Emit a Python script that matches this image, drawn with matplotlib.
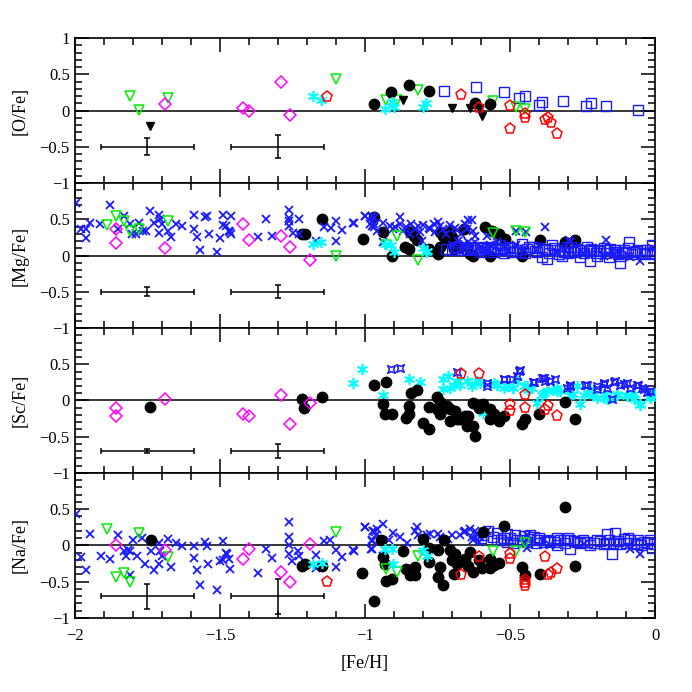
import numpy as np
import matplotlib
matplotlib.use('Agg')
import matplotlib.pyplot as plt
from matplotlib.path import Path
from matplotlib.ticker import MultipleLocator

plt.rcParams['font.family'] = ['Liberation Serif', 'DejaVu Serif']

# ---------------- data (pairs of [Fe/H], [X/Fe]) ----------------
# [O/Fe]
o_circ = [(-0.969, 0.09), (-0.909, 0.25), (-0.849, 0.35), (-0.779, 0.27), (-0.62, 0.106), (-0.57, 0.09)]
o_tri = [(-1.81, 0.20), (-1.779, 0.01), (-1.68, 0.175), (-1.099, 0.44), (-0.929, 0.14), (-0.89, 0.14),
         (-0.818, 0.28), (-0.559, 0.13), (-0.479, 0.055), (-0.449, 0.02)]
o_btri = [(-1.74, -0.21), (-0.868, 0.14), (-0.699, 0.04), (-0.64, 0.04), (-0.609, 0.04), (-0.598, -0.07)]
o_dia = [(-1.69, 0.09), (-1.42, 0.03), (-1.40, -0.01), (-1.29, 0.40), (-1.26, -0.06)]
o_ast = [(-1.18, 0.20), (-1.15, 0.14), (-0.931, 0.02), (-0.908, 0.115), (-0.899, 0.055), (-0.799, 0.055), (-0.79, 0.10)]
o_pent = [(-1.13, 0.18), (-0.669, 0.21), (-0.609, 0.04), (-0.50, 0.06), (-0.499, -0.25), (-0.449, -0.046),
          (-0.449, -0.105), (-0.38, -0.13), (-0.368, -0.10), (-0.36, -0.175), (-0.338, -0.32)]
o_sq = [(-0.729, 0.27), (-0.618, 0.32), (-0.52, 0.26), (-0.469, 0.17), (-0.449, 0.20), (-0.40, 0.08),
        (-0.39, 0.124), (-0.318, 0.138), (-0.239, 0.06), (-0.22, 0.10), (-0.169, 0.06), (-0.059, 0.005)]

# [Mg/Fe]
mg_cross = [(-1.997, 0.72), (-1.98, 0.37), (-1.96, 0.37), (-1.96, 0.24), (-1.948, 0.45), (-1.914, 0.44),
            (-1.879, 0.70), (-1.85, 0.37), (-1.83, 0.54), (-1.81, 0.43), (-1.804, 0.30), (-1.79, 0.29),
            (-1.779, 0.45), (-1.764, 0.335), (-1.755, 0.335), (-1.741, 0.61), (-1.727, 0.45), (-1.709, 0.565),
            (-1.709, 0.31), (-1.708, 0.50), (-1.70, 0.43), (-1.68, 0.345), (-1.67, 0.25), (-1.652, 0.44),
            (-1.63, 0.41), (-1.59, 0.56), (-1.59, 0.36), (-1.58, 0.25), (-1.569, 0.07), (-1.55, 0.53),
            (-1.545, 0.55), (-1.539, 0.29), (-1.509, 0.055), (-1.50, 0.24), (-1.49, 0.56), (-1.49, 0.42),
            (-1.48, 0.41), (-1.468, 0.345), (-1.465, 0.32), (-1.46, 0.54), (-1.46, 0.29), (-1.369, 0.26),
            (-1.34, 0.50), (-1.32, 0.27), (-1.261, 0.63), (-1.261, 0.52), (-1.261, 0.47), (-1.261, 0.41),
            (-1.248, 0.31), (-1.229, 0.50), (-1.229, 0.30), (-1.169, 0.20), (-1.141, 0.40), (-1.118, 0.38),
            (-1.10, 0.47), (-1.10, 0.195), (-1.079, 0.355), (-1.038, 0.445), (-1.001, 0.55), (-0.977, 0.53),
            (-0.977, 0.41), (-0.97, 0.44),
            (-1.040, 0.45), (-0.999, 0.55), (-0.976, 0.55), (-0.969, 0.52), (-0.983, 0.44), (-0.969, 0.39),
            (-0.960, 0.345), (-0.939, 0.45), (-0.914, 0.41), (-0.905, 0.37), (-0.897, 0.39), (-0.879, 0.53),
            (-0.868, 0.335), (-0.845, 0.30), (-0.828, 0.37), (-0.816, 0.41), (-0.810, 0.32), (-0.776, 0.37),
            (-0.764, 0.44), (-0.750, 0.46), (-0.741, 0.41), (-0.707, 0.42), (-0.684, 0.355), (-0.655, 0.44),
            (-0.644, 0.49), (-0.632, 0.49), (-0.627, 0.345), (-0.621, 0.275), (-0.644, 0.185), (-0.66, 0.115),
            (-0.592, 0.09), (-0.580, 0.275), (-0.479, 0.345), (-0.445, 0.32), (-0.479, 0.14), (-0.379, 0.40),
            (-0.299, 0.21), (-0.293, 0.18), (-0.169, 0.22), (-0.052, -0.08), (-0.012, 0.11), (-0.937, 0.19),
            (-0.805, 0.20), (-0.546, 0.185), (-0.454, 0.09), (-0.408, 0.07), (-0.339, 0.045), (-0.247, 0.02),
            (-0.178, 0.0), (-0.132, 0.045), (-0.086, -0.02),
            (-0.70, 0.15), (-0.68, 0.20), (-0.66, 0.16), (-0.64, 0.13), (-0.62, 0.18), (-0.60, 0.12),
            (-0.57, 0.15), (-0.55, 0.12), (-0.52, 0.13), (-0.88, 0.43), (-0.86, 0.40), (-0.84, 0.44),
            (-0.80, 0.42), (-0.78, 0.38), (-0.76, 0.33), (-0.73, 0.36), (-0.72, 0.30), (-0.69, 0.38),
            (-0.67, 0.30), (-0.65, 0.36)]
mg_circ = [(-1.216, 0.29), (-1.207, 0.29), (-1.149, 0.50), (-1.008, 0.225), (-0.969, 0.53), (-0.939, 0.32),
           (-0.908, 0.0), (-0.862, 0.124), (-0.847, 0.09), (-0.845, 0.32), (-0.822, 0.21), (-0.779, 0.09),
           (-0.750, 0.02), (-0.741, 0.115), (-0.741, 0.32), (-0.730, 0.275), (-0.707, 0.345), (-0.701, 0.25),
           (-0.695, 0.09), (-0.672, 0.115), (-0.658, 0.37), (-0.638, 0.023), (-0.627, 0.0), (-0.586, 0.39),
           (-0.563, 0.345), (-0.540, 0.30), (-0.517, 0.23), (-0.569, -0.013), (-0.460, 0.0), (-0.397, 0.21),
           (-0.310, 0.185), (-0.276, 0.21), (-0.833, 0.275), (-0.718, 0.185)]
mg_sq = [(-0.580, 0.09), (-0.551, 0.07), (-0.534, 0.14), (-0.517, 0.07), (-0.489, 0.106), (-0.460, 0.16),
         (-0.443, 0.09), (-0.420, 0.115), (-0.391, -0.02), (-0.374, 0.07), (-0.357, 0.14), (-0.345, 0.07),
         (-0.322, 0.0), (-0.305, 0.115), (-0.282, 0.046), (-0.259, -0.014), (-0.236, 0.115), (-0.213, 0.07),
         (-0.201, 0.0), (-0.178, 0.106), (-0.161, -0.02), (-0.144, 0.046), (-0.121, -0.106), (-0.109, 0.07),
         (-0.089, 0.184), (-0.075, 0.046), (-0.052, 0.07), (-0.034, 0.023), (-0.011, 0.14), (-0.006, 0.023),
         (-0.121, 0.0), (-0.155, 0.09), (-0.195, 0.06), (-0.270, 0.09), (-0.333, 0.023), (-0.408, 0.046),
         (-0.466, 0.046), (-0.597, 0.115), (-0.72, 0.09), (-0.68, 0.11), (-0.66, 0.07), (-0.63, 0.10),
         (-0.61, 0.08), (-0.374, -0.046), (-0.224, -0.07),
         (-0.56, 0.05), (-0.545, 0.10), (-0.52, 0.03), (-0.505, 0.12), (-0.495, 0.05), (-0.475, 0.08),
         (-0.45, 0.03), (-0.435, 0.12), (-0.415, 0.06), (-0.40, 0.10), (-0.38, 0.09), (-0.365, 0.03),
         (-0.35, 0.10), (-0.33, 0.08), (-0.315, 0.05), (-0.30, 0.03), (-0.29, 0.12), (-0.275, 0.06),
         (-0.26, 0.08), (-0.245, 0.03), (-0.23, 0.06), (-0.22, 0.09), (-0.205, 0.04), (-0.19, 0.08),
         (-0.17, 0.04), (-0.165, 0.07), (-0.14, 0.08), (-0.13, 0.02), (-0.115, 0.05), (-0.10, 0.03),
         (-0.095, 0.10), (-0.08, 0.02), (-0.065, 0.06), (-0.045, 0.03), (-0.03, 0.07), (-0.02, 0.04),
         (-0.70, 0.07), (-0.69, 0.12), (-0.65, 0.09), (-0.64, 0.12), (-0.62, 0.07), (-0.60, 0.05),
         (-0.59, 0.11), (-0.57, 0.12), (-0.53, 0.09), (-0.51, 0.10)]
mg_tri = [(-1.889, 0.42), (-1.859, 0.54), (-1.83, 0.48), (-1.81, 0.345), (-1.779, 0.37), (-1.68, 0.48),
          (-1.10, 0.0), (-0.928, 0.15), (-0.89, 0.275), (-0.818, -0.06), (-0.56, 0.31), (-0.479, 0.335),
          (-0.449, 0.32)]
mg_dia = [(-1.859, 0.36), (-1.859, 0.175), (-1.69, 0.10), (-1.42, 0.44), (-1.40, 0.22), (-1.29, 0.27),
          (-1.26, 0.115), (-1.19, -0.065)]
mg_ast = [(-1.18, 0.16), (-1.15, 0.18), (-0.93, 0.155), (-0.91, 0.14), (-0.90, 0.05), (-0.80, 0.11),
          (-0.79, 0.05), (-0.785, 0.06)]

# [Sc/Fe]
sc_dia = [(-1.859, -0.11), (-1.859, -0.216), (-1.69, 0.02), (-1.42, -0.19), (-1.40, -0.216), (-1.29, 0.08),
          (-1.26, -0.32), (-1.19, -0.04)]
sc_circ = [(-1.74, -0.09), (-1.218, 0.02), (-1.209, -0.10), (-1.148, 0.05), (-0.969, 0.22), (-0.939, -0.055),
           (-0.931, -0.19), (-0.908, -0.19), (-0.928, 0.25), (-0.859, -0.24), (-0.85, -0.07), (-0.85, -0.19),
           (-0.84, 0.11), (-0.82, 0.15), (-0.80, -0.31), (-0.78, -0.39), (-0.779, -0.09), (-0.751, 0.05),
           (-0.741, -0.02), (-0.751, -0.124), (-0.741, -0.19), (-0.73, -0.10), (-0.718, -0.07), (-0.707, -0.115),
           (-0.707, -0.285), (-0.69, -0.15), (-0.684, -0.26), (-0.672, -0.26), (-0.655, -0.216), (-0.644, -0.21),
           (-0.649, -0.345), (-0.629, -0.345), (-0.629, -0.03), (-0.62, -0.49), (-0.609, -0.10), (-0.592, -0.055),
           (-0.569, -0.124), (-0.569, -0.26), (-0.555, -0.19), (-0.54, -0.285), (-0.521, -0.216), (-0.46, -0.33),
           (-0.448, -0.25), (-0.40, -0.19), (-0.31, -0.02), (-0.278, -0.25)]
sc_ast = [(-1.04, 0.235), (-1.009, 0.43), (-0.939, 0.08), (-0.849, 0.30), (-0.81, 0.25), (-0.730, 0.30),
          (-0.730, 0.16), (-0.713, 0.335), (-0.707, 0.175), (-0.695, 0.22), (-0.672, 0.22), (-0.649, 0.27),
          (-0.615, 0.27), (-0.603, 0.244), (-0.592, -0.17), (-0.546, 0.22), (-0.523, 0.175), (-0.489, 0.175),
          (-0.477, 0.266), (-0.454, 0.198), (-0.437, 0.14), (-0.408, -0.03), (-0.391, 0.08), (-0.374, 0.128),
          (-0.351, 0.14), (-0.328, 0.128), (-0.293, 0.08), (-0.259, -0.055), (-0.247, 0.08), (-0.213, 0.08),
          (-0.178, 0.037), (-0.167, 0.014), (-0.132, 0.08), (-0.098, 0.08), (-0.075, 0.014), (-0.052, -0.069),
          (-0.017, 0.037), (0.0, 0.106), (-0.224, 0.152), (-0.270, 0.198), (-0.339, 0.175), (-0.425, 0.175),
          (-0.511, 0.198), (-0.557, 0.244), (-0.632, 0.198), (-0.684, 0.266),
          (-0.546, 0.22), (-0.489, 0.175), (-0.443, 0.20), (-0.385, 0.11), (-0.339, 0.13), (-0.282, 0.09),
          (-0.224, 0.11), (-0.178, 0.083), (-0.132, 0.09), (-0.098, 0.06), (-0.052, -0.055), (-0.017, 0.06),
          (-0.201, 0.037), (-0.155, 0.037), (-0.075, 0.083)]
sc_star = [(-0.910, 0.428), (-0.879, 0.45), (-0.684, 0.39), (-0.580, 0.244), (-0.580, 0.198), (-0.520, 0.30),
           (-0.494, 0.30), (-0.477, 0.335), (-0.467, 0.418), (-0.419, 0.25), (-0.391, 0.31), (-0.379, 0.266),
           (-0.362, 0.266), (-0.345, 0.29), (-0.293, 0.22), (-0.241, 0.22), (-0.178, 0.244), (-0.144, 0.25),
           (-0.121, 0.22), (-0.098, 0.244), (-0.058, 0.22), (-0.040, 0.152), (-0.150, 0.014), (-0.201, 0.152),
           (-0.305, 0.175), (-0.017, 0.128),
           (-0.523, 0.30), (-0.471, 0.41), (-0.420, 0.26), (-0.385, 0.31), (-0.293, 0.20), (-0.236, 0.22),
           (-0.178, 0.23), (-0.138, 0.27), (-0.109, 0.23), (-0.063, 0.22), (-0.046, 0.175), (-0.201, 0.20),
           (-0.167, 0.175), (-0.086, 0.175), (-0.029, 0.12)]
sc_pent = [(-0.669, 0.36), (-0.609, 0.37), (-0.50, -0.06), (-0.50, -0.15), (-0.45, 0.08), (-0.45, -0.10),
           (-0.38, -0.13), (-0.37, -0.07), (-0.338, -0.22)]

# [Na/Fe]
na_cross = [(-1.994, 0.44), (-1.98, -0.16), (-1.96, -0.335), (-1.948, 0.16), (-1.908, -0.15), (-1.879, -0.18),
            (-1.85, 0.14), (-1.83, -0.07), (-1.824, -0.14), (-1.816, -0.06), (-1.808, -0.08), (-1.787, -0.14),
            (-1.808, -0.41), (-1.80, 0.07), (-1.77, 0.105), (-1.759, -0.25), (-1.739, -0.08), (-1.728, -0.335),
            (-1.71, 0.03), (-1.708, -0.08), (-1.71, -0.25), (-1.70, -0.14), (-1.678, 0.09), (-1.67, -0.30),
            (-1.652, 0.04), (-1.63, -0.01), (-1.59, -0.014), (-1.59, -0.17), (-1.58, -0.335), (-1.569, -0.54),
            (-1.55, 0.05), (-1.545, -0.01), (-1.54, -0.26), (-1.509, -0.62), (-1.49, 0.06), (-1.50, -0.22),
            (-1.49, -0.20), (-1.48, -0.11), (-1.475, -0.12), (-1.468, -0.18), (-1.465, -0.33), (-1.369, -0.38),
            (-1.34, -0.05), (-1.32, -0.175), (-1.261, 0.32), (-1.261, 0.115), (-1.261, 0.01), (-1.261, -0.115),
            (-1.25, -0.22), (-1.232, -0.08), (-1.228, -0.14), (-1.169, -0.13), (-1.169, -0.31), (-1.14, 0.06),
            (-1.12, 0.07), (-1.10, -0.06), (-1.10, -0.30), (-1.079, -0.16), (-1.038, -0.07), (-1.001, 0.26),
            (-0.977, -0.05), (-0.972, 0.20), (-0.965, 0.18), (-0.977, 0.06), (-0.962, 0.14),
            (-1.040, -0.06), (-0.999, 0.26), (-0.976, 0.07), (-0.971, 0.20), (-0.960, 0.23), (-0.939, 0.30),
            (-0.980, -0.05), (-0.939, -0.14), (-0.916, 0.08), (-0.902, 0.17), (-0.879, 0.115), (-0.857, 0.032),
            (-0.828, 0.205), (-0.822, 0.26), (-0.816, 0.138), (-0.787, 0.138), (-0.776, 0.16), (-0.750, 0.16),
            (-0.741, 0.115), (-0.713, 0.092), (-0.672, 0.138), (-0.655, 0.205), (-0.638, 0.23), (-0.627, 0.069),
            (-0.615, 0.16), (-0.609, 0.046), (-0.603, 0.115), (-0.580, 0.205), (-0.442, -0.032), (-0.454, 0.046),
            (-0.442, 0.138), (-0.052, -0.115), (-0.086, -0.046), (-0.247, 0.023), (-0.362, 0.0),
            (-0.70, 0.15), (-0.66, 0.18), (-0.63, 0.12), (-0.62, 0.20)]
na_circ = [(-1.739, 0.08), (-1.218, -0.28), (-1.207, -0.25), (-1.148, -0.285), (-1.009, -0.38), (-0.969, -0.76),
           (-0.946, 0.078), (-0.939, -0.16), (-0.931, -0.25), (-0.928, -0.49), (-0.908, -0.46), (-0.870, -0.078),
           (-0.859, -0.322), (-0.845, -0.41), (-0.828, -0.41), (-0.845, -0.345), (-0.828, -0.30), (-0.799, 0.092),
           (-0.778, -0.032), (-0.779, -0.23), (-0.750, -0.069), (-0.747, -0.44), (-0.741, -0.30), (-0.730, -0.54),
           (-0.727, 0.078), (-0.707, -0.06), (-0.701, -0.207), (-0.695, -0.39), (-0.690, -0.115), (-0.684, -0.253),
           (-0.655, -0.184), (-0.647, -0.29), (-0.638, -0.092), (-0.629, -0.368), (-0.609, -0.198), (-0.597, -0.31),
           (-0.592, 0.18), (-0.569, -0.31), (-0.569, -0.184), (-0.555, -0.276), (-0.540, -0.244), (-0.521, 0.262),
           (-0.460, -0.30), (-0.448, -0.414), (-0.397, -0.39), (-0.310, 0.53), (-0.278, -0.29)]
na_sq = [(-0.575, 0.20), (-0.546, 0.17), (-0.511, 0.16), (-0.482, 0.138), (-0.454, 0.124), (-0.431, 0.138),
         (-0.408, 0.069), (-0.362, 0.06), (-0.339, 0.106), (-0.293, -0.046), (-0.247, 0.046), (-0.167, 0.16),
         (-0.138, 0.17), (-0.150, -0.124), (-0.109, 0.092), (-0.086, 0.069), (-0.040, 0.046), (-0.011, -0.032),
         (-0.546, 0.069), (-0.511, 0.046), (-0.477, 0.069), (-0.442, 0.046), (-0.385, 0.046), (-0.316, 0.069),
         (-0.270, 0.046), (-0.224, 0.0), (-0.201, 0.069), (-0.178, 0.023), (-0.121, 0.023), (-0.063, 0.023),
         (-0.339, 0.0), (-0.293, 0.069), (-0.419, 0.115), (-0.523, 0.106), (-0.592, 0.138),
         (-0.60, 0.10), (-0.56, 0.12), (-0.53, 0.08), (-0.50, 0.10), (-0.49, 0.03), (-0.46, 0.08),
         (-0.43, 0.09), (-0.41, 0.03), (-0.40, 0.10), (-0.37, 0.08), (-0.35, 0.05), (-0.33, 0.08),
         (-0.31, 0.04), (-0.30, 0.10), (-0.28, 0.06), (-0.26, 0.03), (-0.25, 0.08), (-0.235, 0.05),
         (-0.21, 0.03), (-0.19, 0.06), (-0.17, 0.04), (-0.16, 0.08), (-0.145, 0.04), (-0.13, 0.06),
         (-0.10, 0.04), (-0.095, 0.10), (-0.075, 0.04), (-0.06, 0.07), (-0.05, 0.0), (-0.03, 0.04),
         (-0.02, 0.08), (-0.005, 0.02)]
na_pent = [(-1.13, -0.51), (-0.669, -0.41), (-0.609, -0.16), (-0.50, -0.12), (-0.50, -0.19), (-0.45, -0.48),
           (-0.45, -0.52), (-0.45, -0.56), (-0.38, -0.16), (-0.37, -0.41), (-0.36, -0.38), (-0.34, -0.33)]
na_tri = [(-1.89, 0.23), (-1.859, -0.43), (-1.83, -0.38), (-1.81, -0.51), (-1.779, 0.17), (-1.68, -0.16),
          (-1.10, 0.19), (-0.928, -0.32), (-0.89, -0.37), (-0.818, -0.14), (-0.56, -0.07), (-0.479, -0.07),
          (-0.449, 0.03)]
na_dia = [(-1.859, 0.0), (-1.69, -0.06), (-1.42, -0.18), (-1.40, -0.05), (-1.29, -0.37), (-1.26, -0.50),
          (-1.19, 0.015)]
na_ast = [(-1.178, -0.25), (-1.148, -0.245), (-0.931, -0.05), (-0.908, -0.05), (-0.902, -0.26), (-0.80, -0.06),
          (-0.787, -0.15)]

# typical error bars: (x, y, xerr, yerr)
o_err = [(-1.75, -0.5, 0.16, 0.12), (-1.30, -0.5, 0.16, 0.16)]
mg_err = [(-1.75, -0.5, 0.16, 0.065), (-1.30, -0.5, 0.16, 0.09)]
sc_err = [(-1.75, -0.7, 0.16, 0.03), (-1.30, -0.7, 0.16, 0.10)]
na_err = [(-1.75, -0.7, 0.16, 0.175), (-1.30, -0.7, 0.16, 0.24)]

# concave square marker for the Sc panel
star4 = Path([(1, 1), (0, 0.55), (-1, 1), (-0.55, 0), (-1, -1), (0, -0.55), (1, -1), (0.55, 0), (1, 1)],
             [Path.MOVETO] + [Path.LINETO] * 7 + [Path.CLOSEPOLY])

styles = {
    'cross': dict(marker='x', color='#1a1aff', ms=6, mew=1.3, ls='none'),
    'sq': dict(marker='s', mfc='none', mec='#1a1aff', ms=6.5, mew=1.0, ls='none'),
    'circ': dict(marker='o', color='black', ms=7.5, ls='none'),
    'tri': dict(marker='v', mfc='none', mec='#00ee00', ms=7.5, mew=1.1, ls='none'),
    'btri': dict(marker='v', color='black', ms=5.5, ls='none'),
    'dia': dict(marker='D', mfc='none', mec='#ff00ff', ms=6, mew=1.1, ls='none'),
    'ast': dict(marker=(6, 2, 0), color='cyan', mec='cyan', ms=8, mew=1.2, ls='none'),
    'pent': dict(marker='p', mfc='none', mec='red', ms=8, mew=1.1, ls='none'),
    'star': dict(marker=star4, mfc='none', mec='#1a1aff', ms=5.5, mew=1.1, ls='none'),
}

panels = [
    ('[O/Fe]', [('sq', o_sq), ('tri', o_tri), ('circ', o_circ), ('btri', o_btri), ('dia', o_dia),
                ('ast', o_ast), ('pent', o_pent)], o_err),
    ('[Mg/Fe]', [('circ', mg_circ), ('cross', mg_cross), ('sq', mg_sq), ('tri', mg_tri), ('dia', mg_dia),
                 ('ast', mg_ast)], mg_err),
    ('[Sc/Fe]', [('ast', sc_ast), ('star', sc_star), ('circ', sc_circ), ('dia', sc_dia), ('pent', sc_pent)], sc_err),
    ('[Na/Fe]', [('cross', na_cross), ('sq', na_sq), ('circ', na_circ), ('tri', na_tri), ('dia', na_dia),
                 ('ast', na_ast), ('pent', na_pent)], na_err),
]

fig, axes = plt.subplots(4, 1, sharex=True, figsize=(6.92, 6.92), dpi=100)
fig.subplots_adjust(left=0.108, right=0.947, bottom=0.107, top=0.945, hspace=0)

for i, (ax, (label, series, errs)) in enumerate(zip(axes, panels)):
    ax.axhline(0, color='black', lw=1.1, zorder=1)
    for key, pts in series:
        xs, ys = zip(*pts)
        ax.plot(xs, ys, zorder=3, **styles[key])
    for ex, ey, exe, eye in errs:
        ax.errorbar(ex, ey, xerr=exe, yerr=eye, color='black', lw=1.1, capsize=2.5, capthick=1.1, zorder=2)

    ax.set_xlim(-2, 0)
    ax.set_ylim(-1, 1)
    ax.xaxis.set_major_locator(MultipleLocator(0.5))
    ax.xaxis.set_minor_locator(MultipleLocator(0.1))
    ax.yaxis.set_major_locator(MultipleLocator(0.5))
    ax.yaxis.set_minor_locator(MultipleLocator(0.1))
    ax.tick_params(which='both', direction='in', top=True, right=True, labelsize=12, width=1.1)
    ax.tick_params(which='major', length=10)
    ax.tick_params(which='minor', length=5)
    yt = [-1, -0.5, 0, 0.5, 1]
    ylabels = ['\u22121', '\u22120.5', '0', '0.5', '1']
    if i > 0:
        ylabels[-1] = ''
    ax.set_yticks(yt)
    ax.set_yticklabels(ylabels)
    for sp in ax.spines.values():
        sp.set_linewidth(1.2)
    ax.set_ylabel(label, fontsize=13)
    ax.yaxis.set_label_coords(-0.08, 0.5)

axes[-1].set_xticks([-2, -1.5, -1, -0.5, 0])
axes[-1].set_xticklabels(['\u22122', '\u22121.5', '\u22121', '\u22120.5', '0'])
axes[-1].set_xlabel('[Fe/H]', fontsize=13, labelpad=8)
axes[-1].tick_params(axis='x', pad=7)

plt.savefig('out.png', dpi=100)
